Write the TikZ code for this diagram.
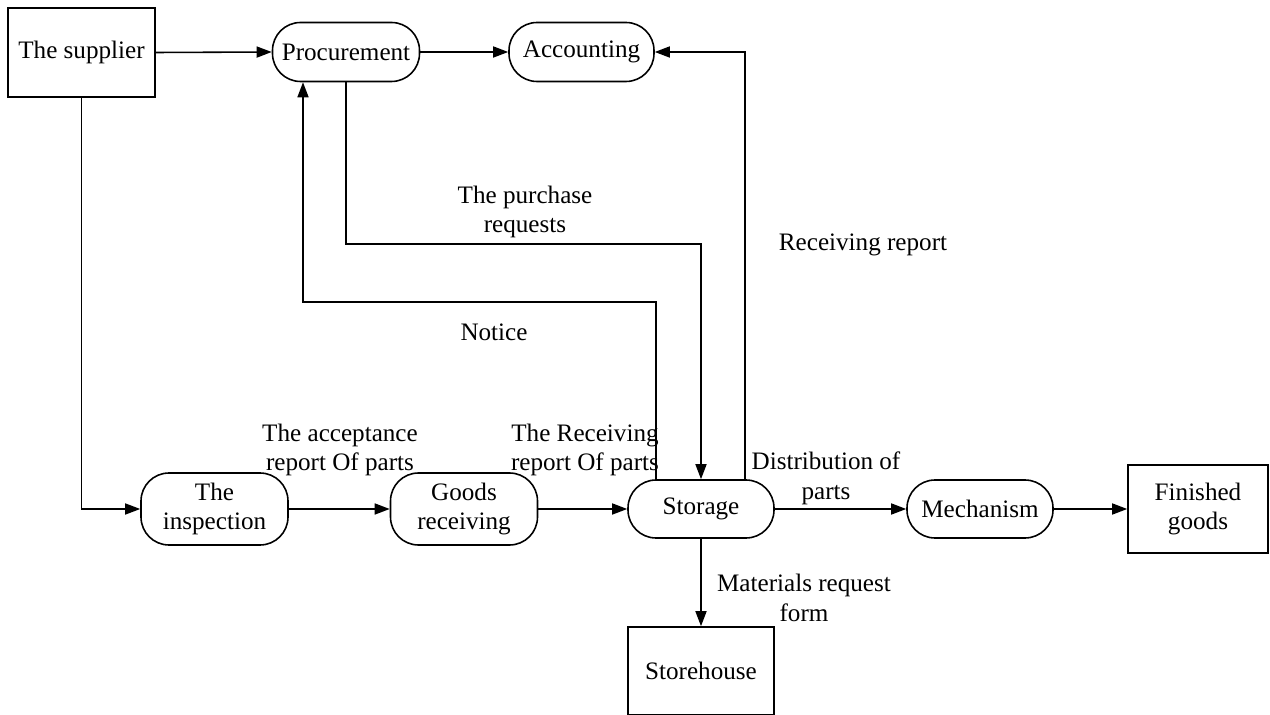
\documentclass[tikz,border=0pt]{standalone}
\usepackage{fontspec}
\setmainfont{Liberation Serif}
\usepackage{tikz}
\usetikzlibrary{positioning,arrows.meta,calc}

\begin{document}
\begin{tikzpicture}[
    font=\fontsize{14.3}{17}\selectfont,
    ent/.style={draw, line width=0.9pt, minimum width=2.94cm,
                minimum height=1.78cm, inner sep=1pt, align=center},
    proc/.style={draw, line width=0.9pt, rounded corners=0.56cm,
                 minimum width=2.94cm, minimum height=1.18cm,
                 inner sep=1pt, align=center},
    lbl/.style={align=center, inner sep=1pt},
    flow/.style={-{Triangle[length=3mm, width=2.2mm]}, line width=0.9pt},
  ]
  \useasboundingbox (0,0) rectangle (25.4,-14.3);

  % --- top row ---
  \node[ent] (supp) at (1.63,-1.05) {The supplier};
  \node[proc] (procu) at (6.92,-1.04) {Procurement};
  \node[proc, minimum width=2.9cm] (acct) at (11.63,-1.04) {Accounting};

  % --- bottom row ---
  \node[proc, minimum height=1.44cm] (insp) at (4.29,-10.18) {The\\inspection};
  \node[proc, minimum height=1.44cm] (goods) at (9.28,-10.18) {Goods\\receiving};
  \node[proc, minimum width=2.92cm, minimum height=1.16cm] (stor) at (14.02,-10.18) {Storage};
  \node[proc, minimum width=2.92cm, minimum height=1.16cm] (mech) at (19.6,-10.18) {Mechanism};
  \node[ent, minimum width=2.8cm, minimum height=1.76cm] (fin) at (23.96,-10.18) {Finished\\goods};
  \node[ent, minimum width=2.92cm, minimum height=1.76cm] (house) at (14.02,-13.42) {Storehouse};

  % bend points
  \coordinate (preq) at (14.02,-4.88);
  \coordinate (ntc) at (6.06,-6.04);

  % flows
  \draw[flow] (supp.east) -- (procu.west);
  \draw[flow] (procu.east) -- (acct.west);
  \draw[flow] (supp.south) |- (insp.west);
  \draw[flow] (insp.east) -- (goods.west);
  \draw[flow] (goods.east) -- (stor.west);
  \draw[flow] (stor.east) -- (mech.west);
  \draw[flow] (mech.east) -- (fin.west);
  \draw[flow] (stor.south) -- (house.north);
  \draw[flow] (procu.south) |- (preq) -- (stor.north);
  \draw[flow] ($(stor.north)+(-0.9,0)$) |- (ntc) -- (ntc |- procu.south);
  \draw[flow] ($(stor.north)+(0.88,0)$) |- (acct.east);

  % labels
  \node[lbl] (lpreq) at (10.5,-4.24) {The purchase\\requests};
  \node[lbl] (lrec) at (17.26,-4.9) {Receiving report};
  \node[lbl] (lntc) at (9.88,-6.64) {Notice};
  \node[lbl] (lacc) at (6.8,-9.0) {The acceptance\\report Of parts};
  \node[lbl] (lrcv) at (11.7,-9.0) {The Receiving\\report Of parts};
  \node[lbl] (ldist) at (16.52,-9.56) {Distribution of\\parts};
  \node[lbl] (lmat) at (16.08,-11.96) {Materials request\\form};
\end{tikzpicture}
\end{document}
